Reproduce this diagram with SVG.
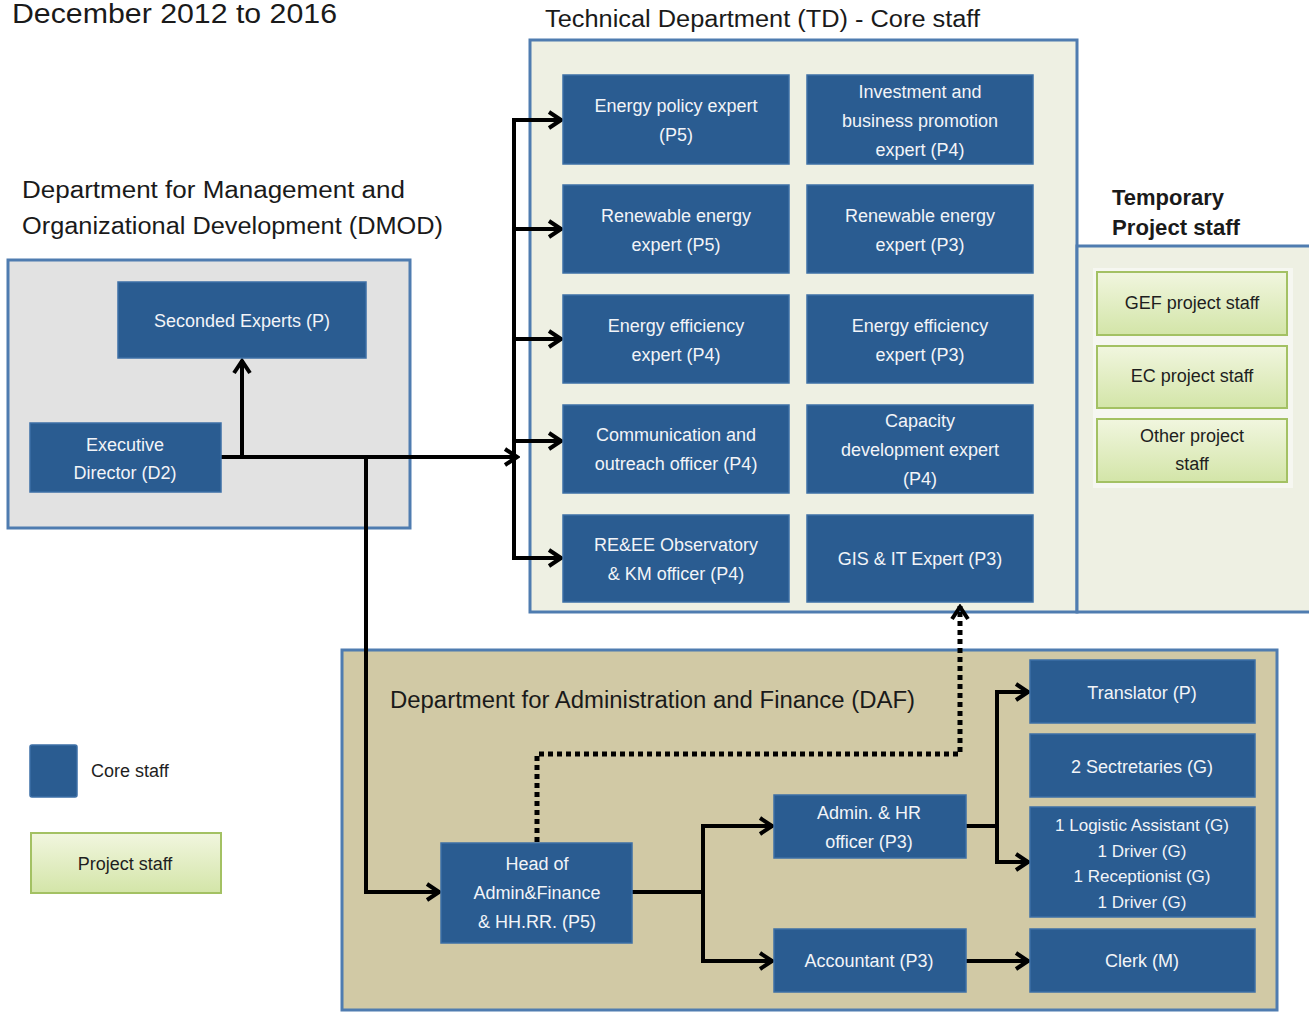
<svg xmlns="http://www.w3.org/2000/svg" width="1309" height="1013" viewBox="0 0 1309 1013">
<style>
.core{fill:#2a5c91;stroke:#3d6fa6;stroke-width:1.5}
.proj{fill:url(#g);stroke:#a3c163;stroke-width:2}
.ct{font-family:"Liberation Sans",Arial,sans-serif;font-size:18px;fill:#f2f4f8;text-anchor:middle}
.sm{font-size:17px}
.pt{font-family:"Liberation Sans",Arial,sans-serif;font-size:18px;fill:#1e1e1e;text-anchor:middle}
.lt{font-family:"Liberation Sans",Arial,sans-serif;font-size:18px;fill:#1e1e1e}
.title{font-family:"Liberation Sans",Arial,sans-serif;font-size:23px;fill:#1a1a1a}
.big{font-size:27px}
.bold{font-size:22px;font-weight:bold}
.cont{stroke:#4f7cb0;stroke-width:3}
.ln{fill:none;stroke:#000;stroke-width:4;stroke-linejoin:miter}
.dot{fill:none;stroke:#000;stroke-width:5;stroke-dasharray:5 4}
</style>
<defs>
<linearGradient id="g" x1="0" y1="0" x2="0" y2="1">
<stop offset="0" stop-color="#f1f6df"/>
<stop offset="1" stop-color="#d3e5a8"/>
</linearGradient>
<marker id="arr" viewBox="0 0 18 20" refX="16" refY="10" markerWidth="18" markerHeight="20" markerUnits="userSpaceOnUse" orient="auto">
<path d="M3,2 L15,10 L3,18" fill="none" stroke="#000" stroke-width="4"/>
</marker>
</defs>
<rect width="1309" height="1013" fill="#fff"/>

<text class="title big" x="12" y="23" textLength="325" lengthAdjust="spacingAndGlyphs">December 2012 to 2016</text>
<text class="title" x="545" y="27" textLength="435" lengthAdjust="spacingAndGlyphs">Technical Department (TD) - Core staff</text>
<text class="title" x="22" y="198" textLength="383" lengthAdjust="spacingAndGlyphs">Department for Management and</text>
<text class="title" x="22" y="234" textLength="421" lengthAdjust="spacingAndGlyphs">Organizational Development (DMOD)</text>
<text class="title bold" x="1112" y="205" textLength="112" lengthAdjust="spacingAndGlyphs">Temporary</text>
<text class="title bold" x="1112" y="235" textLength="128" lengthAdjust="spacingAndGlyphs">Project staff</text>

<g id="containers">
<rect class="cont" x="530" y="40" width="547" height="572" fill="#eef0e3"/>
<rect class="cont" x="1077" y="246" width="240" height="366" fill="#eef0e3"/>
<rect x="1093" y="268" width="200" height="220" fill="#f6f7f1"/>
<rect class="cont" x="8" y="260" width="402" height="268" fill="#e2e2e2"/>
<rect class="cont" x="342" y="650" width="935" height="360" fill="#d1c9a5"/>
</g>
<text class="title" x="390" y="708" textLength="525" lengthAdjust="spacingAndGlyphs">Department for Administration and Finance (DAF)</text>

<g id="connectors">
<path class="ln" d="M221,457 H518" marker-end="url(#arr)"/>
<path class="ln" d="M242,457 V360" marker-end="url(#arr)"/>
<path class="ln" d="M366,457 V892 H440" marker-end="url(#arr)"/>
<path class="ln" d="M514,120 V558"/>
<path class="ln" d="M512,120 H562" marker-end="url(#arr)"/>
<path class="ln" d="M514,229 H562" marker-end="url(#arr)"/>
<path class="ln" d="M514,339 H562" marker-end="url(#arr)"/>
<path class="ln" d="M514,441 H562" marker-end="url(#arr)"/>
<path class="ln" d="M512,558 H562" marker-end="url(#arr)"/>
<path class="ln" d="M632,892 H703"/>
<path class="ln" d="M703,826 V961"/>
<path class="ln" d="M701,826 H773" marker-end="url(#arr)"/>
<path class="ln" d="M701,961 H773" marker-end="url(#arr)"/>
<path class="ln" d="M966,826 H997"/>
<path class="ln" d="M997,692 V862"/>
<path class="ln" d="M995,692 H1029" marker-end="url(#arr)"/>
<path class="ln" d="M995,862 H1029" marker-end="url(#arr)"/>
<path class="ln" d="M966,961 H1029" marker-end="url(#arr)"/>
<path class="dot" d="M537,842 V754 H960 V606" marker-end="url(#arr)"/>
</g>

<g id="n-seconded"><rect class="core" x="118" y="282" width="248" height="76"/><text class="ct" x="242" y="327">Seconded Experts (P)</text></g>
<g id="n-exec"><rect class="core" x="30" y="423" width="191" height="69"/><text class="ct" x="125" y="451">Executive</text><text class="ct" x="125" y="479">Director (D2)</text></g>

<g id="n-td1"><rect class="core" x="563" y="75" width="226" height="89"/><text class="ct" x="676" y="112">Energy policy expert</text><text class="ct" x="676" y="141">(P5)</text></g>
<g id="n-td2"><rect class="core" x="807" y="75" width="226" height="89"/><text class="ct" x="920" y="98">Investment and</text><text class="ct" x="920" y="127">business promotion</text><text class="ct" x="920" y="156">expert (P4)</text></g>
<g id="n-td3"><rect class="core" x="563" y="185" width="226" height="88"/><text class="ct" x="676" y="222">Renewable energy</text><text class="ct" x="676" y="251">expert (P5)</text></g>
<g id="n-td4"><rect class="core" x="807" y="185" width="226" height="88"/><text class="ct" x="920" y="222">Renewable energy</text><text class="ct" x="920" y="251">expert (P3)</text></g>
<g id="n-td5"><rect class="core" x="563" y="295" width="226" height="88"/><text class="ct" x="676" y="332">Energy efficiency</text><text class="ct" x="676" y="361">expert (P4)</text></g>
<g id="n-td6"><rect class="core" x="807" y="295" width="226" height="88"/><text class="ct" x="920" y="332">Energy efficiency</text><text class="ct" x="920" y="361">expert (P3)</text></g>
<g id="n-td7"><rect class="core" x="563" y="405" width="226" height="88"/><text class="ct" x="676" y="441">Communication and</text><text class="ct" x="676" y="470">outreach officer (P4)</text></g>
<g id="n-td8"><rect class="core" x="807" y="405" width="226" height="88"/><text class="ct" x="920" y="427">Capacity</text><text class="ct" x="920" y="456">development expert</text><text class="ct" x="920" y="485">(P4)</text></g>
<g id="n-td9"><rect class="core" x="563" y="515" width="226" height="87"/><text class="ct" x="676" y="551">RE&amp;EE Observatory</text><text class="ct" x="676" y="580">&amp; KM officer (P4)</text></g>
<g id="n-td10"><rect class="core" x="807" y="515" width="226" height="87"/><text class="ct" x="920" y="565">GIS &amp; IT Expert (P3)</text></g>

<g id="n-gef"><rect class="proj" x="1097" y="272" width="190" height="63"/><text class="pt" x="1192" y="309">GEF project staff</text></g>
<g id="n-ec"><rect class="proj" x="1097" y="346" width="190" height="62"/><text class="pt" x="1192" y="382">EC project staff</text></g>
<g id="n-other"><rect class="proj" x="1097" y="419" width="190" height="63"/><text class="pt" x="1192" y="442">Other project</text><text class="pt" x="1192" y="470">staff</text></g>

<g id="n-head"><rect class="core" x="441" y="843" width="191" height="100"/><text class="ct" x="537" y="870">Head of</text><text class="ct" x="537" y="899">Admin&amp;Finance</text><text class="ct" x="537" y="928">&amp; HH.RR. (P5)</text></g>
<g id="n-adminhr"><rect class="core" x="774" y="795" width="192" height="63"/><text class="ct" x="869" y="819">Admin. &amp; HR</text><text class="ct" x="869" y="848">officer  (P3)</text></g>
<g id="n-accountant"><rect class="core" x="774" y="929" width="192" height="63"/><text class="ct" x="869" y="967">Accountant (P3)</text></g>
<g id="n-translator"><rect class="core" x="1030" y="660" width="225" height="63"/><text class="ct" x="1142" y="699">Translator (P)</text></g>
<g id="n-secretaries"><rect class="core" x="1030" y="734" width="225" height="63"/><text class="ct" x="1142" y="773">2 Sectretaries (G)</text></g>
<g id="n-logistic"><rect class="core" x="1030" y="807" width="225" height="110"/><text class="ct sm" x="1142" y="831">1 Logistic Assistant (G)</text><text class="ct sm" x="1142" y="857">1 Driver (G)</text><text class="ct sm" x="1142" y="882">1 Receptionist (G)</text><text class="ct sm" x="1142" y="908">1 Driver (G)</text></g>
<g id="n-clerk"><rect class="core" x="1030" y="929" width="225" height="63"/><text class="ct" x="1142" y="967">Clerk (M)</text></g>

<g id="legend">
<rect class="core" x="30" y="745" width="47" height="52" rx="2"/>
<text class="lt" x="91" y="777">Core staff</text>
<rect class="proj" x="31" y="833" width="190" height="60"/>
<text class="pt" x="125" y="870">Project staff</text>
</g>
</svg>
